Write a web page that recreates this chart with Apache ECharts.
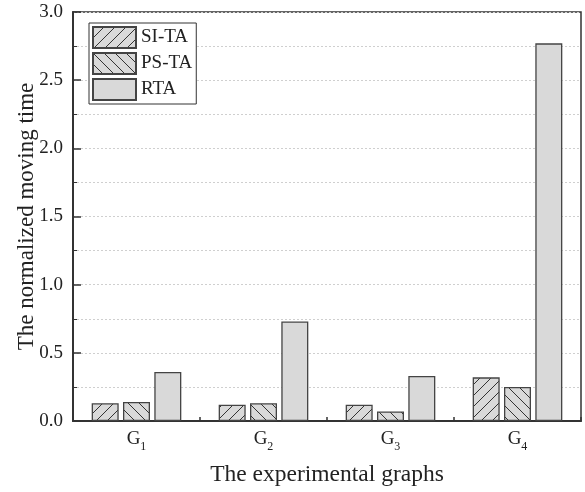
<!DOCTYPE html>
<html>
<head>
<meta charset="utf-8">
<script src="https://cdn.jsdelivr.net/npm/echarts@6/dist/echarts.min.js"></script>
<style>html,body{margin:0;padding:0;background:#fff}#c{width:585px;height:492px}</style>
</head>
<body>
<div id="c"></div>
<script>
const categories = ['G1', 'G2', 'G3', 'G4'];
const seriesNames = ['SI-TA', 'PS-TA', 'RTA'];
const siTA = [0.13, 0.12, 0.12, 0.32];
const psTA = [0.14, 0.13, 0.07, 0.25];
const rta = [0.36, 0.73, 0.33, 2.77];
const yTicks = [0, 0.5, 1.0, 1.5, 2.0, 2.5, 3.0];

const FILL = '#d9d9d9';
function hatch(dir) {
  const s = 11;
  const c = document.createElement('canvas');
  c.width = s; c.height = s;
  const g = c.getContext('2d');
  g.fillStyle = FILL; g.fillRect(0, 0, s, s);
  g.strokeStyle = '#333'; g.lineWidth = 1;
  g.beginPath();
  if (dir > 0) {
    g.moveTo(-1, s + 1); g.lineTo(s + 1, -1);
    g.moveTo(-2, 1); g.lineTo(1, -2);
    g.moveTo(s - 1, s + 2); g.lineTo(s + 2, s - 1);
  } else {
    g.moveTo(-1, -1); g.lineTo(s + 1, s + 1);
    g.moveTo(s - 1, -2); g.lineTo(s + 2, 1);
    g.moveTo(-2, s - 1); g.lineTo(1, s + 2);
  }
  g.stroke();
  return c;
}

const font = 'Liberation Serif';
const chart = echarts.init(document.getElementById('c'), null, {renderer: 'canvas'});
const barStyle = (color) => ({color: color, borderColor: '#444', borderWidth: 1.3});

chart.setOption({
  animation: false,
  backgroundColor: '#fff',
  textStyle: {fontFamily: font},
  grid: {left: 73, right: 4, top: 12, bottom: 70, show: true, borderColor: '#333', borderWidth: 1.5, backgroundColor: 'transparent'},
  legend: {
    orient: 'vertical', left: 89, top: 23,
    padding: [3, 4, 3, 3], itemGap: 3, itemWidth: 43, itemHeight: 21,
    borderColor: '#333', borderWidth: 1, backgroundColor: '#fff',
    textStyle: {fontFamily: font, fontSize: 19, color: '#222'},
    data: seriesNames.map(n => ({name: n, icon: 'rect'}))
  },
  xAxis: {
    type: 'category', data: categories,
    name: 'The experimental graphs', nameLocation: 'middle', nameGap: 42,
    nameTextStyle: {fontFamily: font, fontSize: 23.5, color: '#222'},
    axisLine: {lineStyle: {color: '#333', width: 2}},
    axisTick: {show: true, inside: true, length: 4, lineStyle: {color: '#333', width: 1.5}},
    axisLabel: {
      margin: 9, color: '#222',
      formatter: v => '{g|G}{s|' + v.slice(1) + '}',
      rich: {
        g: {fontFamily: font, fontSize: 19, color: '#222', verticalAlign: 'bottom', padding: [0, 0, 4, 0]},
        s: {fontFamily: font, fontSize: 12, color: '#222', verticalAlign: 'bottom'}
      }
    }
  },
  yAxis: {
    type: 'value', min: 0, max: 3, interval: 0.5,
    name: 'The normalized moving time', nameLocation: 'middle', nameGap: 35,
    nameMoveOverlap: false,
    nameTextStyle: {fontFamily: font, fontSize: 23, color: '#222'},
    axisLine: {show: true, lineStyle: {color: '#333', width: 2}},
    axisTick: {show: true, inside: true, length: 8, lineStyle: {color: '#333', width: 1.5}},
    minorTick: {show: true, splitNumber: 2, length: 4, lineStyle: {color: '#333', width: 1}},
    axisLabel: {
      margin: 10, fontFamily: font, fontSize: 19, color: '#222',
      formatter: v => (yTicks.indexOf(v) >= 0 ? v.toFixed(1) : '')
    },
    splitLine: {show: true, lineStyle: {color: '#cfcfcf', type: [2, 2], width: 1}},
    minorSplitLine: {show: true, lineStyle: {color: '#cfcfcf', type: [2, 2], width: 1}}
  },
  series: [
    {name: seriesNames[0], type: 'bar', data: siTA, barWidth: 27, barGap: '16%',
     itemStyle: barStyle({image: hatch(1), repeat: 'repeat'})},
    {name: seriesNames[1], type: 'bar', data: psTA, barWidth: 27, barGap: '16%',
     itemStyle: barStyle({image: hatch(-1), repeat: 'repeat'})},
    {name: seriesNames[2], type: 'bar', data: rta, barWidth: 27, barGap: '16%',
     itemStyle: barStyle(FILL)}
  ]
});
</script>
</body>
</html>
